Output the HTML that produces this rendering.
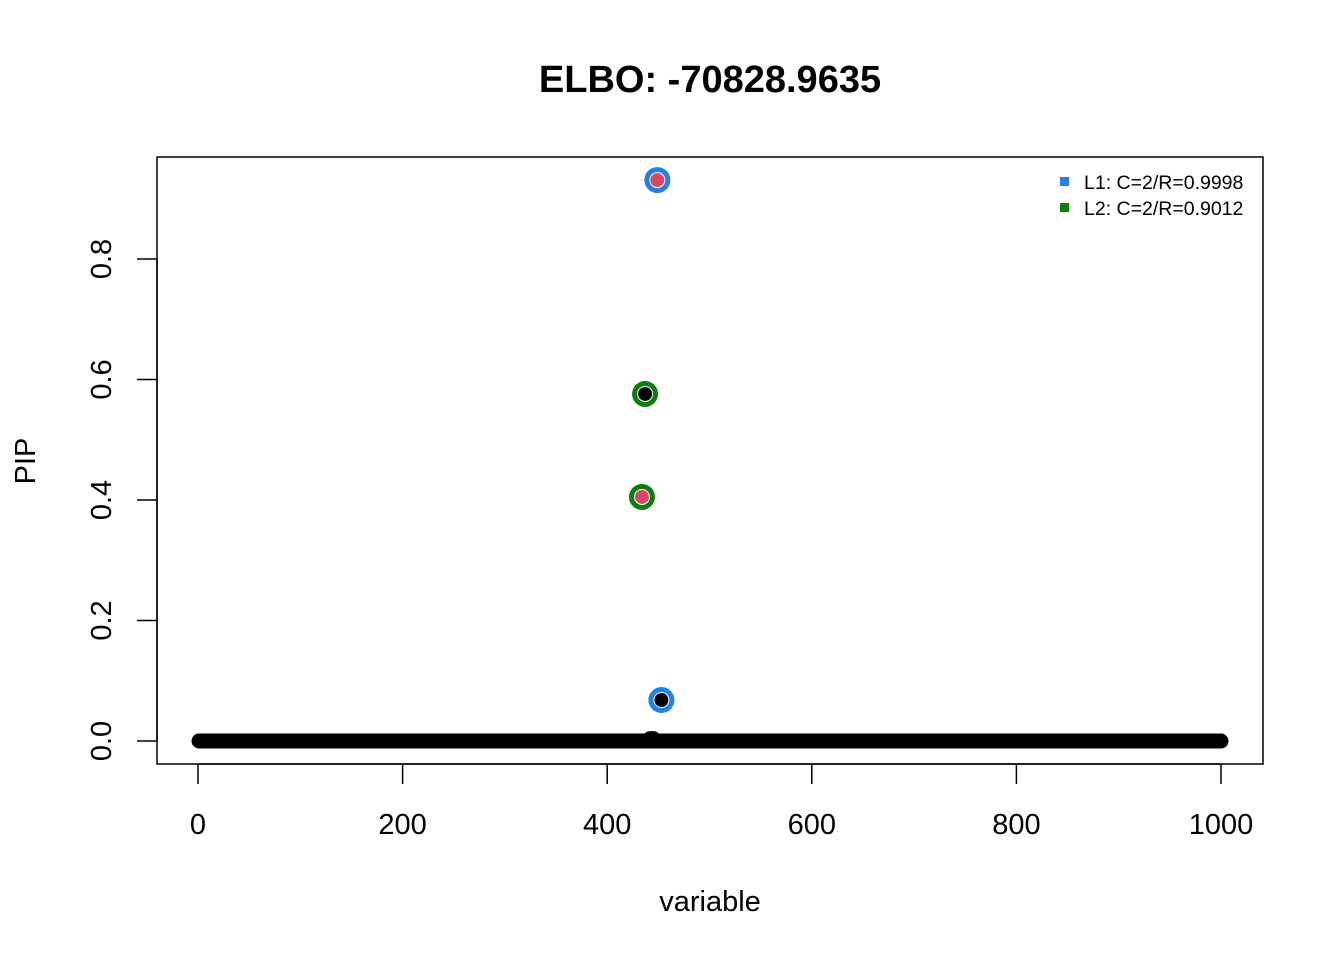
<!DOCTYPE html>
<html><head><meta charset="utf-8"><style>body{margin:0;background:#fff}svg{display:block;font-family:"Liberation Sans",Arial,sans-serif}</style></head>
<body>
<svg id="chart" width="1344" height="960" viewBox="0 0 1344 960">
<text x="710" y="92" text-anchor="middle" font-size="38" font-weight="bold">ELBO: -70828.9635</text>
<rect x="157" y="157" width="1106" height="607" fill="none" stroke="#000" stroke-width="1.5"/>
<g id="marks"></g>
<g id="axes"></g>
<text x="710" y="911" text-anchor="middle" font-size="29">variable</text>
<text transform="translate(35,461) rotate(-90)" text-anchor="middle" font-size="29">PIP</text>
<g>
<rect x="1060" y="177" width="9" height="9" fill="#2281E8"/>
<text x="1084" y="189" font-size="19.5">L1: C=2/R=0.9998</text>
<rect x="1060" y="203" width="9" height="9" fill="#0A800A"/>
<text x="1084" y="215" font-size="19.5">L2: C=2/R=0.9012</text>
</g>
</svg>
<script>
const xTicks=[0,200,400,600,800,1000];
const yTicks=[0.0,0.2,0.4,0.6,0.8];
const yTickLabels=["0.0","0.2","0.4","0.6","0.8"];
const nVars=1000;
const bumpVar=[442,445];
const bumpPip=[0.004,0.004];
const csVar=[449,453,437,434];
const csPip=[0.931,0.068,0.576,0.405];
const csRing=["#2281E8","#2281E8","#0A800A","#0A800A"];
const csFill=["#D94766","#000000","#000000","#D94766"];
const NS="http://www.w3.org/2000/svg";
const sx=v=>198+(v)*1.023;
const sy=p=>741-p*602.5;
const marks=document.getElementById('marks');
const axes=document.getElementById('axes');
function mk(tag,attrs,parent){const e=document.createElementNS(NS,tag);for(const k in attrs)e.setAttribute(k,attrs[k]);parent.appendChild(e);return e;}
for(let i=1;i<=nVars;i++){
 const c=mk('circle',{cx:sx(i),cy:sy(0),r:7.5,fill:'#000'},marks);
 
 
}
bumpVar.forEach((v,i)=>{
 const c=mk('circle',{cx:sx(v),cy:sy(bumpPip[i]),r:7.5,fill:'#000'},marks);
 
 
});
csVar.forEach((v,i)=>{
 const g=mk('g',{},marks);
 
 
 mk('circle',{cx:sx(v),cy:sy(csPip[i]),r:13,fill:csRing[i]},g);
 mk('circle',{cx:sx(v),cy:sy(csPip[i]),r:8,fill:'#fff'},g);
 mk('circle',{cx:sx(v),cy:sy(csPip[i]),r:7,fill:csFill[i]},g);
});
mk('line',{x1:sx(0),x2:sx(1000),y1:764,y2:764,stroke:'#000','stroke-width':1.5},axes);
xTicks.forEach(t=>{
 const l=mk('line',{x1:sx(t),x2:sx(t),y1:764,y2:784,stroke:'#000','stroke-width':1.5},axes);
 
 
 const tx=mk('text',{x:sx(t),y:834,'text-anchor':'middle','font-size':29},axes);
 
 
 tx.textContent=String(t);
});
mk('line',{x1:157,x2:157,y1:sy(0),y2:sy(0.8),stroke:'#000','stroke-width':1.5},axes);
yTicks.forEach((t,i)=>{
 const l=mk('line',{x1:137,x2:157,y1:sy(t),y2:sy(t),stroke:'#000','stroke-width':1.5},axes);
 
 
 const tx=mk('text',{transform:`translate(111,${sy(t)}) rotate(-90)`,'text-anchor':'middle','font-size':29},axes);
 
 
 tx.textContent=yTickLabels[i];
});
</script>
</body></html>
